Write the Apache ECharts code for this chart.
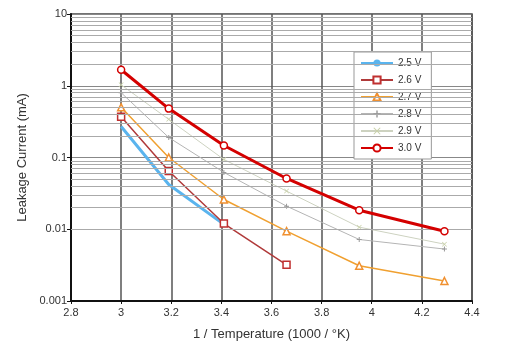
<!DOCTYPE html>
<html><head><meta charset="utf-8">
<script src="https://cdn.jsdelivr.net/npm/echarts@6/dist/echarts.min.js"></script>
<style>html,body{margin:0;padding:0;background:#fff}#c{width:509px;height:359px}</style>
</head><body><div id="c"></div>
<script>
var invTemp = [3.0, 3.19, 3.41, 3.66, 3.95, 4.29];
var v25 = [0.27, 0.042, 0.0117];
var v26 = [0.37, 0.065, 0.012, 0.0032];
var v27 = [0.5, 0.1, 0.026, 0.0094, 0.0031, 0.0019];
var v28 = [0.8, 0.19, 0.062, 0.021, 0.0072, 0.0053];
var v29 = [1.03, 0.34, 0.094, 0.034, 0.0107, 0.0062];
var v30 = [1.67, 0.48, 0.147, 0.051, 0.0184, 0.0094];
var names = ['2.5 V', '2.6 V', '2.7 V', '2.8 V', '2.9 V', '3.0 V'];

function pts(vals) { return vals.map(function (v, i) { return [invTemp[i], v]; }); }

var minor = [];
[0.001, 0.01, 0.1, 1].forEach(function (d) {
  for (var m = 2; m <= 9; m++) minor.push({ yAxis: +(m * d).toPrecision(3) });
});

var plusPath = 'path://M4,0H6V4H10V6H6V10H4V6H0V4H4Z';
var xPath = 'path://M1,0L5,4L9,0L10,1L6,5L10,9L9,10L5,6L1,10L0,9L4,5L0,1Z';

var chart = echarts.init(document.getElementById('c'));
chart.setOption({
  animation: false,
  grid: { left: 71, right: 37, top: 14, bottom: 58, show: true, borderColor: '#444', borderWidth: 1.5 },
  legend: {
    data: names, orient: 'vertical', left: 354, top: 52,
    itemWidth: 32, itemHeight: 9, itemGap: 7,
    backgroundColor: '#fff', borderColor: '#999', borderWidth: 1,
    padding: [6, 10, 6, 6],
    textStyle: { fontFamily: 'Liberation Sans', fontSize: 10, color: '#333' }
  },
  xAxis: {
    type: 'value', min: 2.8, max: 4.4, interval: 0.2,
    name: '1 / Temperature (1000 / °K)', nameLocation: 'middle', nameGap: 27,
    nameTextStyle: { fontFamily: 'Liberation Sans', fontSize: 13, color: '#333' },
    axisLine: { lineStyle: { color: '#111', width: 2 } },
    axisTick: { show: true, length: 3, lineStyle: { color: '#111' } },
    axisLabel: { fontFamily: 'Liberation Sans', fontSize: 11, color: '#333', margin: 6 },
    splitLine: { show: true, lineStyle: { color: '#555', width: 1.5 } }
  },
  yAxis: {
    type: 'log', logBase: 10, min: 0.001, max: 10,
    name: 'Leakage Current (mA)', nameLocation: 'middle', nameGap: 36,
    nameTextStyle: { fontFamily: 'Liberation Sans', fontSize: 13, color: '#333' },
    axisLine: { show: true, lineStyle: { color: '#111', width: 2 } },
    axisTick: { show: true, length: 4, lineStyle: { color: '#111' } },
    axisLabel: { fontFamily: 'Liberation Sans', fontSize: 11, color: '#333', margin: 4 },
    splitLine: { show: true, lineStyle: { color: '#888', width: 1.2 } }
  },
  series: [
    { type: 'line', name: 'grid', data: [], z: 1, silent: true,
      markLine: { silent: true, symbol: ['none', 'none'], label: { show: false },
        lineStyle: { color: '#aaa', width: 1, type: 'solid' }, data: minor } },
    { type: 'line', name: names[0], data: pts(v25), z: 3, showSymbol: false, symbol: 'none',
      lineStyle: { color: '#5ab4ee', width: 3 }, itemStyle: { color: '#5ab4ee' } },
    { type: 'line', name: names[1], data: pts(v26), z: 4, symbol: 'rect', symbolSize: 7,
      lineStyle: { color: '#b03a3a', width: 1.5 },
      itemStyle: { color: '#fff', borderColor: '#c03030', borderWidth: 1.5 } },
    { type: 'line', name: names[2], data: pts(v27), z: 4, symbol: 'triangle', symbolSize: 7,
      lineStyle: { color: '#f0a030', width: 1.5 },
      itemStyle: { color: '#fff', borderColor: '#f09030', borderWidth: 1.5 } },
    { type: 'line', name: names[3], data: pts(v28), z: 3, symbol: plusPath, symbolSize: 5,
      lineStyle: { color: '#b4b4b4', width: 1 }, itemStyle: { color: '#999' } },
    { type: 'line', name: names[4], data: pts(v29), z: 3, symbol: xPath, symbolSize: 5,
      lineStyle: { color: '#cdd2c0', width: 1 }, itemStyle: { color: '#c8d0a8' } },
    { type: 'line', name: names[5], data: pts(v30), z: 5, symbol: 'circle', symbolSize: 7,
      lineStyle: { color: '#d40000', width: 3 },
      itemStyle: { color: '#fff', borderColor: '#d40000', borderWidth: 1.5 } }
  ]
});
</script></body></html>
